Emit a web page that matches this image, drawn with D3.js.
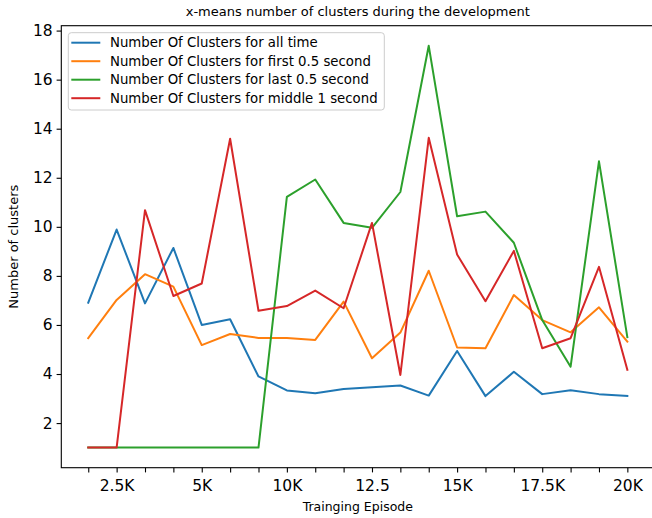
<!DOCTYPE html>
<html>
<head>
<meta charset="utf-8">
<script src="https://cdn.jsdelivr.net/npm/d3@7/dist/d3.min.js"></script>
<style>
  html, body { margin: 0; padding: 0; background: #fff; }
  svg { display: block; font-family: "DejaVu Sans", sans-serif; }
</style>
</head>
<body>
<svg id="chart" width="652" height="518"></svg>
<script>
// Training checkpoints (one per evaluation), labelled every third tick
const episodes = d3.range(20);
const tickLabels = [
  { at: 1, text: "2.5K" }, { at: 4, text: "5K" }, { at: 7, text: "10K" },
  { at: 10, text: "12.5" }, { at: 13, text: "15K" }, { at: 16, text: "17.5K" },
  { at: 19, text: "20K" }
];
const yTicks = [2, 4, 6, 8, 10, 12, 14, 16, 18];

const allTime = [6.91, 9.89, 6.88, 9.14, 6.0, 6.23, 3.9, 3.33, 3.22, 3.39,
                 3.46, 3.53, 3.12, 4.94, 3.10, 4.09, 3.18, 3.34, 3.18, 3.11];
const firstHalf = [5.46, 7.02, 8.07, 7.56, 5.18, 5.63, 5.47, 5.47, 5.39, 6.95,
                   4.64, 5.69, 8.21, 5.08, 5.05, 7.22, 6.2, 5.70, 6.72, 5.32];
const lastHalf = [1, 1, 1, 1, 1, 1, 1, 11.22, 11.93, 10.16,
                  9.96, 11.42, 17.38, 10.43, 10.62, 9.35, 6.2, 4.3, 12.67, 5.5];
const middleOne = [1, 1, 10.68, 7.18, 7.69, 13.59, 6.58, 6.77, 7.4, 6.68,
                   10.16, 3.96, 13.63, 8.87, 6.97, 9.02, 5.05, 5.46, 8.37, 4.17];

const series = [
  { name: "Number Of Clusters for all time", values: allTime, color: "#1f77b4" },
  { name: "Number Of Clusters for first 0.5 second", values: firstHalf, color: "#ff7f0e" },
  { name: "Number Of Clusters for last 0.5 second", values: lastHalf, color: "#2ca02c" },
  { name: "Number Of Clusters for middle 1 second", values: middleOne, color: "#d62728" }
];

const svg = d3.select("#chart");
const plot = { left: 61.3, top: 25.7, right: 654.3, bottom: 467.7 };

// matplotlib-style 5% data margins
const xExt = d3.extent(episodes);
const xPad = (xExt[1] - xExt[0]) * 0.05;
const allVals = series.flatMap(s => s.values);
const yExt = d3.extent(allVals);
const yPad = (yExt[1] - yExt[0]) * 0.05;

const x = d3.scaleLinear().domain([xExt[0] - xPad, xExt[1] + xPad]).range([plot.left, plot.right]);
const y = d3.scaleLinear().domain([yExt[0] - yPad, yExt[1] + yPad]).range([plot.bottom, plot.top]);

// Lines
const line = d3.line().x((d, i) => x(episodes[i])).y(d => y(d));
const lines = svg.append("g");
series.forEach(s => {
  lines.append("path")
    .attr("d", line(s.values))
    .attr("fill", "none")
    .attr("stroke", s.color)
    .attr("stroke-width", 2)
    .attr("stroke-linejoin", "round")
    .attr("stroke-linecap", "square");
});

// Axes
const labelMap = new Map(tickLabels.map(t => [t.at, t.text]));
const xAxis = d3.axisBottom(x).tickValues(episodes).tickSize(4.7).tickPadding(8)
  .tickFormat(d => labelMap.get(d) || "");
const yAxis = d3.axisLeft(y).tickValues(yTicks).tickSize(4.7).tickPadding(4)
  .tickFormat(d3.format("d"));

const gx = svg.append("g").attr("transform", `translate(0,${plot.bottom})`).call(xAxis);
const gy = svg.append("g").attr("transform", `translate(${plot.left},0)`).call(yAxis);
[gx, gy].forEach(g => {
  g.select(".domain").remove();
  g.selectAll(".tick line").attr("stroke", "#000").attr("stroke-width", 1.1);
  g.selectAll(".tick text").attr("fill", "#000")
    .style("font-family", "'DejaVu Sans', sans-serif").style("font-size", "15.5px");
});

// Spines
svg.append("rect")
  .attr("x", plot.left).attr("y", plot.top)
  .attr("width", plot.right - plot.left).attr("height", plot.bottom - plot.top)
  .attr("fill", "none").attr("stroke", "#000").attr("stroke-width", 1.1);

// Title and axis labels
svg.append("text")
  .attr("x", (plot.left + plot.right) / 2).attr("y", 15.5)
  .attr("text-anchor", "middle").style("font-size", "13px")
  .text("x-means number of clusters during the development");
svg.append("text")
  .attr("x", (plot.left + plot.right) / 2).attr("y", 511)
  .attr("text-anchor", "middle").style("font-size", "12.5px")
  .text("Trainging Episode");
svg.append("text")
  .attr("transform", `translate(18,${(plot.top + plot.bottom) / 2}) rotate(-90)`)
  .attr("text-anchor", "middle").style("font-size", "13px")
  .text("Number of clusters");

// Legend
const legend = svg.append("g").attr("transform", "translate(68.3,32.7)");
legend.append("rect")
  .attr("width", 316).attr("height", 77.3).attr("rx", 3)
  .attr("fill", "#fff").attr("fill-opacity", 0.8)
  .attr("stroke", "#cccccc").attr("stroke-width", 1);
series.forEach((s, i) => {
  const cy = 10 + i * 18.5;
  legend.append("line")
    .attr("x1", 3).attr("x2", 32).attr("y1", cy).attr("y2", cy)
    .attr("stroke", s.color).attr("stroke-width", 2);
  legend.append("text")
    .attr("x", 41.7).attr("y", cy).attr("dy", "0.36em")
    .style("font-size", "13.3px")
    .text(s.name);
});
</script>
</body>
</html>
